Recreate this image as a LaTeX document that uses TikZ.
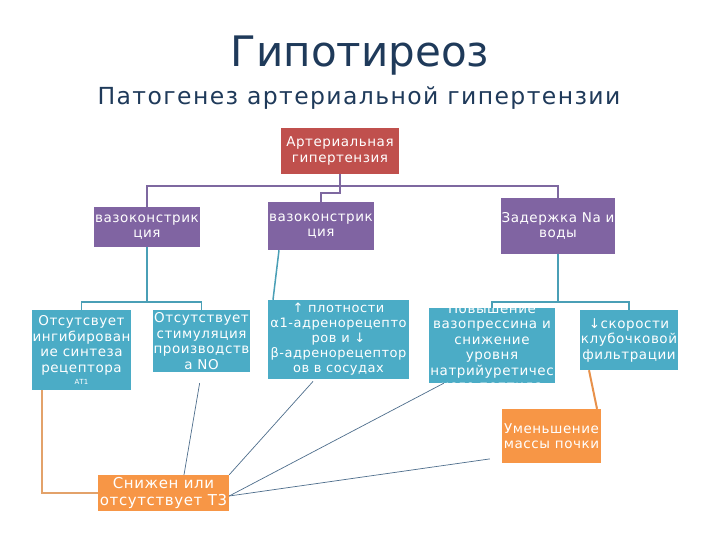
\documentclass[tikz,border=0pt]{standalone}
\usepackage{fontspec}
\setmainfont{DejaVu Sans}
\newfontfamily\spfont[LetterSpace=4]{DejaVu Sans}
\newfontfamily\subfont[LetterSpace=6]{DejaVu Sans}
\usetikzlibrary{calc}
\definecolor{cred}{HTML}{C0504D}
\definecolor{cpur}{HTML}{8064A2}
\definecolor{cteal}{HTML}{4BACC6}
\definecolor{corg}{HTML}{F79646}
\definecolor{cline}{HTML}{4E6E8C}
\definecolor{ctitle}{HTML}{1F3A5A}
\definecolor{ctealln}{HTML}{4A9FB6}
\definecolor{cpurln}{HTML}{7E68A0}
\definecolor{ctan}{HTML}{E3A26A}
\definecolor{corgln}{HTML}{E8914A}
\begin{document}
\begin{tikzpicture}[x=1pt,y=-1pt,
  box/.style={rectangle, inner sep=0pt, text=white, align=center,
    font=\spfont\fontsize{13.5}{15.5}\selectfont},
  redbox/.style={box, fill=cred},
  purbox/.style={box, fill=cpur},
  tealbox/.style={box, fill=cteal},
  orgbox/.style={box, fill=corg},
  purln/.style={draw=cpurln, line width=1.5pt},
  tealln/.style={draw=ctealln, line width=1.5pt},
  tanln/.style={draw=ctan, line width=2pt},
  orgln/.style={draw=corgln, line width=2pt},
  thinln/.style={draw=cline, line width=0.7pt}]
\useasboundingbox[fill=white] (0,0) rectangle (720,540);

\node[text=ctitle, font=\fontsize{42}{48}\selectfont] (title) at (360,56) {Гипотиреоз};
\node[text=ctitle, font=\subfont\fontsize{23.5}{27}\selectfont] (sub) at (359,98) {Патогенез артериальной гипертензии};

\node[redbox, minimum width=118pt, minimum height=46pt] (top) at (340,151) {Артериальная\\гипертензия};

\node[purbox, minimum width=106pt, minimum height=40pt] (p1) at (147,227) {вазоконстрик\\ция};
\node[purbox, minimum width=106pt, minimum height=48pt] (p2) at (321,226) {вазоконстрик\\ция};
\node[purbox, minimum width=114pt, minimum height=56pt] (p3) at (558,226) {Задержка Na и\\воды};

\node[tealbox, minimum width=99pt, minimum height=80pt] (t1) at (81.5,350)
  {Отсутсвует\\ингибирован\\ие синтеза\\рецептора\\[-3pt]{\fontsize{7}{8}\selectfont AT1}};
\node[tealbox, minimum width=97pt, minimum height=62pt] (t2) at (201.5,341)
  {Отсутствует\\стимуляция\\производств\\а NO};
\node[tealbox, minimum width=141pt, minimum height=79pt,
  font=\spfont\fontsize{13}{15}\selectfont] (t3) at (338.5,339.5)
  {↑ плотности\\α1-адренорецепто\\ров и ↓\\β-адренорецептор\\ов в сосудах};
\node[tealbox, minimum width=126pt, minimum height=75pt] (t4) at (492,345.5) {};
\begin{scope}
  \clip (t4.south west) rectangle (t4.north east);
  \node[box] (t4text) at (492,348) {Повышение\\вазопрессина и\\снижение\\уровня\\натрийуретичес\\кого пептида};
\end{scope}
\node[tealbox, minimum width=98pt, minimum height=60pt] (t5) at (629,340)
  {↓скорости\\клубочковой\\фильтрации};

\node[orgbox, minimum width=99pt, minimum height=54pt] (o1) at (551.5,436)
  {Уменьшение\\массы почки};
\node[orgbox, minimum width=131pt, minimum height=36pt,
  font=\spfont\fontsize{15}{17}\selectfont] (o2) at (163.5,493)
  {Снижен или\\отсутствует Т3};

% purple connectors
\draw[purln] (top.south) -- ++(0,12) coordinate (hub) -| (p1.north);
\draw[purln] (hub) -| (p3.north);
\draw[purln] (top.south) -- ++(0,19) -| (p2.north);

% teal connectors
\draw[tealln] (p1.south) -- ++(0,55) coordinate (h1) -| (t1.north);
\draw[tealln] (h1) -| (t2.north);
\draw[tealln] ([xshift=-42pt]p2.south) -- ([xshift=-65.5pt]t3.north);
\draw[tealln] (p3.south) -- ++(0,48) coordinate (h2) -| (t4.north);
\draw[tealln] (h2) -| (t5.north);

% orange connectors
\draw[tanln] ([xshift=-39.5pt]t1.south) |- (o2.west);
\draw[orgln] ([xshift=-40pt]t5.south) -- ([xshift=45.5pt]o1.north);

% thin connectors
\draw[thinln, shorten >=11pt] ([xshift=20.5pt]o2.north) -- (t2.south);
\draw[thinln, shorten >=3pt] (o2.north east) -- ([xshift=-23.5pt]t3.south);
\draw[thinln] ([yshift=-3pt]o2.east) -- ([xshift=15pt]t4.south west);
\draw[thinln, shorten >=12pt] ([yshift=-3pt]o2.east) -- ([yshift=6pt]o1.south west);
\end{tikzpicture}
\end{document}
